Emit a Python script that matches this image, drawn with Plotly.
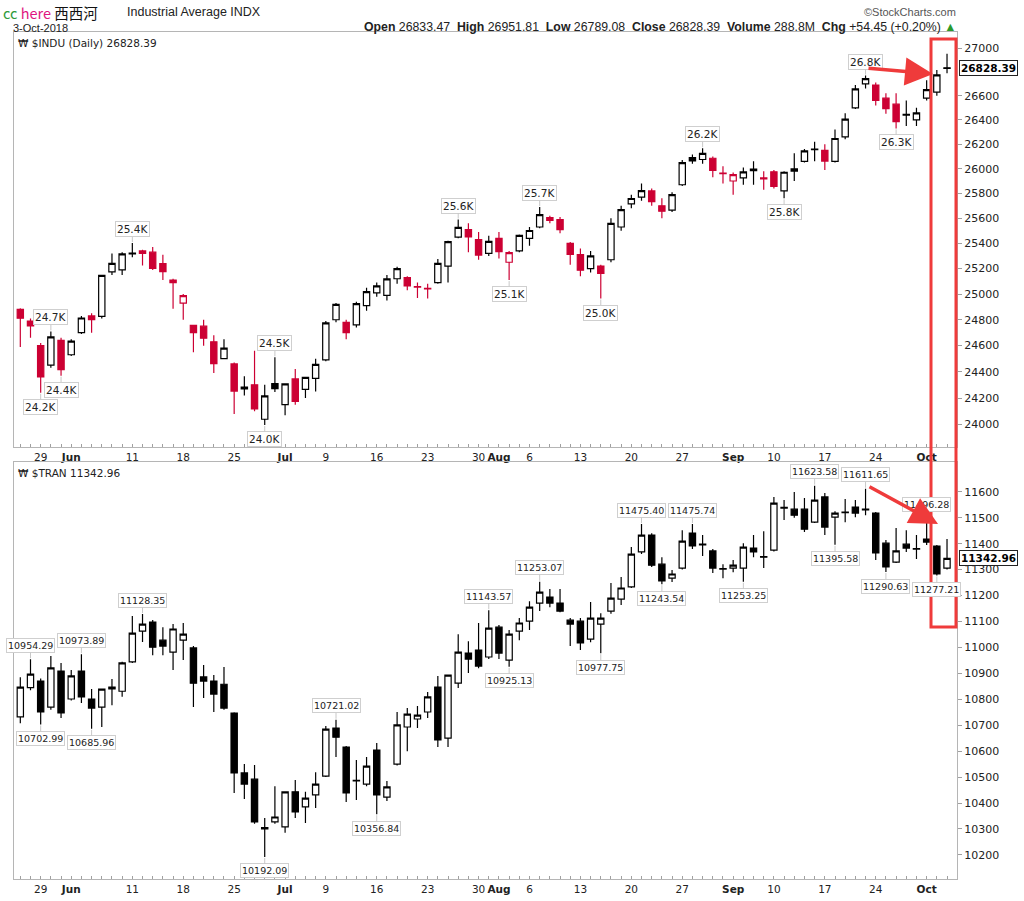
import math
import plotly.graph_objects as go

# ---------------- data ----------------
dates = [
    "2018-05-24", "2018-05-25", "2018-05-29", "2018-05-30", "2018-05-31",
    "2018-06-01", "2018-06-04", "2018-06-05", "2018-06-06", "2018-06-07", "2018-06-08",
    "2018-06-11", "2018-06-12", "2018-06-13", "2018-06-14", "2018-06-15",
    "2018-06-18", "2018-06-19", "2018-06-20", "2018-06-21", "2018-06-22",
    "2018-06-25", "2018-06-26", "2018-06-27", "2018-06-28", "2018-06-29",
    "2018-07-02", "2018-07-03", "2018-07-05", "2018-07-06",
    "2018-07-09", "2018-07-10", "2018-07-11", "2018-07-12", "2018-07-13",
    "2018-07-16", "2018-07-17", "2018-07-18", "2018-07-19", "2018-07-20",
    "2018-07-23", "2018-07-24", "2018-07-25", "2018-07-26", "2018-07-27",
    "2018-07-30", "2018-07-31", "2018-08-01", "2018-08-02", "2018-08-03",
    "2018-08-06", "2018-08-07", "2018-08-08", "2018-08-09", "2018-08-10",
    "2018-08-13", "2018-08-14", "2018-08-15", "2018-08-16", "2018-08-17",
    "2018-08-20", "2018-08-21", "2018-08-22", "2018-08-23", "2018-08-24",
    "2018-08-27", "2018-08-28", "2018-08-29", "2018-08-30", "2018-08-31",
    "2018-09-04", "2018-09-05", "2018-09-06", "2018-09-07",
    "2018-09-10", "2018-09-11", "2018-09-12", "2018-09-13", "2018-09-14",
    "2018-09-17", "2018-09-18", "2018-09-19", "2018-09-20", "2018-09-21",
    "2018-09-24", "2018-09-25", "2018-09-26", "2018-09-27", "2018-09-28",
    "2018-10-01", "2018-10-02", "2018-10-03",
]

indu_prev_close = 24886.81
indu_open = [24880, 24790, 24600, 24450, 24640, 24530, 24700, 24830, 24826, 25175, 25190,
             25316, 25340, 25330, 25240, 25110, 24930, 24757, 24750, 24630, 24500,
             24460, 24270, 24300, 24040, 24310, 24150, 24345, 24265, 24350,
             24490, 24800, 24780, 24760, 24910, 25010, 24990, 25120, 25130, 25054,
             25040, 25090, 25220, 25450, 25510, 25430, 25320, 25440, 25250, 25340,
             25440, 25530, 25605, 25590, 25400, 25310, 25200, 25220, 25270, 25530,
             25715, 25770, 25820, 25700, 25665, 25870, 26090, 26075, 26085, 25960,
             25900, 25925, 25985, 25925, 25975, 25820, 25980, 26060, 26160,
             26150, 26060, 26260, 26500, 26700, 26690, 26580, 26530, 26445, 26400,
             26580, 26630, 26833.47]
indu_high = [24890, 24810, 24620, 24710, 24660, 24650, 24830, 24850, 25150, 25320, 25330,
             25402, 25350, 25370, 25310, 25120, 25000, 24760, 24800, 24680, 24650,
             24470, 24365, 24560, 24300, 24510, 24310, 24420, 24360, 24500,
             24790, 24930, 24800, 24940, 25050, 25090, 25150, 25215, 25140, 25090,
             25080, 25275, 25420, 25590, 25560, 25490, 25460, 25490, 25340, 25470,
             25530, 25690, 25620, 25610, 25410, 25360, 25340, 25230, 25600, 25700,
             25790, 25880, 25840, 25760, 25810, 26070, 26115, 26167, 26100, 26020,
             25970, 26010, 26060, 25980, 25990, 25980, 26125, 26160, 26220,
             26200, 26320, 26455, 26690, 26769, 26710, 26620, 26620, 26560, 26500,
             26730, 26815, 26951.81]
indu_low = [24590, 24660, 24240, 24430, 24370, 24520, 24690, 24700, 24810, 25150, 25150,
            25290, 25225, 25190, 25110, 24885, 24800, 24550, 24600, 24390, 24495,
            24080, 24220, 24100, 23997, 24245, 24070, 24150, 24200, 24250,
            24480, 24780, 24650, 24740, 24870, 24980, 24950, 25080, 25030, 24970,
            24965, 25080, 25090, 25440, 25330, 25270, 25300, 25280, 25110, 25330,
            25380, 25520, 25560, 25480, 25230, 25140, 25170, 24965, 25250, 25500,
            25680, 25740, 25700, 25600, 25650, 25860, 26040, 26040, 25930, 25880,
            25790, 25870, 25870, 25830, 25840, 25760, 25900, 26050, 26060,
            25990, 26050, 26240, 26490, 26660, 26520, 26450, 26330, 26350, 26350,
            26560, 26600, 26789.08]
indu_close = [24811.76, 24753.09, 24361.45, 24667.78, 24415.84, 24635.21, 24813.69, 24799.98,
              25146.39, 25241.41, 25316.53, 25322.31, 25320.73, 25201.20, 25175.31, 25090.48,
              24987.47, 24700.21, 24657.80, 24461.70, 24580.89, 24252.80, 24283.11, 24117.59,
              24216.05, 24271.41, 24307.18, 24174.82, 24356.74, 24456.48, 24776.59, 24919.66,
              24700.45, 24924.89, 25019.41, 25064.36, 25119.89, 25199.29, 25064.50, 25058.12,
              25044.29, 25241.94, 25414.10, 25527.07, 25451.06, 25306.83, 25415.19, 25333.82,
              25326.16, 25462.58, 25502.18, 25628.91, 25583.75, 25509.23, 25313.14, 25187.70,
              25299.92, 25162.41, 25558.73, 25669.32, 25758.69, 25822.29, 25733.60, 25656.98,
              25790.35, 26049.64, 26064.02, 26124.57, 25986.92, 25964.82, 25952.48, 25974.99,
              25995.87, 25916.54, 25857.07, 25971.06, 25998.92, 26145.99, 26154.67, 26062.12,
              26246.96, 26405.76, 26656.98, 26743.50, 26562.05, 26492.21, 26385.28, 26439.93,
              26458.31, 26651.21, 26773.94, 26828.39]

tran_open = [10732, 10845, 10870, 10770, 10909, 10801, 10909, 10801, 10770, 10847, 10831,
             10944, 11063, 11098, 11028, 10982, 11028, 10998, 10886, 10870, 10858,
             10747, 10516, 10492, 10300, 10327, 10308, 10443, 10385, 10431,
             10504, 10689, 10616, 10487, 10473, 10604, 10423, 10550, 10693, 10724,
             10751, 10847, 10650, 10862, 10978, 10990, 10963, 11078, 10951, 11063,
             11101, 11171, 11194, 11171, 11105, 11101, 11032, 11090, 11140, 11186,
             11233, 11368, 11433, 11321, 11267, 11306, 11441, 11398, 11372, 11304,
             11306, 11306, 11383, 11350, 11375, 11540, 11533, 11533, 11483,
             11580, 11502, 11520, 11541, 11530, 11518, 11402, 11329, 11398, 11381,
             11418, 11391, 11306]
tran_high = [10885, 10954.29, 10880, 10967, 10940, 10913, 10973.89, 10840, 10840, 10878, 10945,
             11121, 11128.35, 11106, 11078, 11090, 11094, 11005, 10932, 10894, 10924,
             10750, 10550, 10547, 10342, 10465, 10445, 10489, 10443, 10519,
             10697, 10721.02, 10620, 10566, 10577, 10631, 10485, 10751, 10766, 10774,
             10828, 10890, 10895, 11051, 11024, 11094, 11143.57, 11086, 11067, 11113,
             11178, 11253.07, 11225, 11225, 11113, 11113, 11175, 11132, 11248, 11271,
             11387, 11475.40, 11440, 11348, 11298, 11452, 11475.74, 11433, 11379, 11321,
             11337, 11402, 11433, 11448, 11580, 11568, 11599, 11576, 11623.58,
             11595, 11525, 11572, 11568, 11611.65, 11522, 11414, 11460, 11452, 11433,
             11496.28, 11395, 11418]
tran_low = [10708, 10835, 10702.99, 10760, 10728, 10795, 10786, 10685.96, 10693, 10777, 10810,
            10940, 11021, 10970, 10970, 10913, 10951, 10770, 10805, 10751, 10760,
            10439, 10415, 10320, 10192.09, 10320, 10285, 10342, 10323, 10381,
            10500, 10577, 10404, 10412, 10465, 10356.84, 10408, 10545, 10600, 10689,
            10728, 10616, 10616, 10843, 10901, 10920, 10955, 10955, 10925.13, 11028,
            11067, 11140, 11155, 11136, 11005, 10990, 11020, 10977.75, 11130, 11163,
            11229, 11360, 11310, 11243.54, 11252, 11300, 11379, 11352, 11287, 11267,
            11290, 11253.25, 11348, 11306, 11370, 11491, 11500, 11445, 11480,
            11433, 11395.58, 11483, 11502, 11510, 11337, 11290.63, 11325, 11368, 11341,
            11395, 11277.21, 11300]
tran_close = [10847, 10897, 10751, 10921, 10747, 10890, 10809, 10766, 10839, 10840, 10940,
              11055, 11090, 11001, 11005, 11071, 11051, 10862, 10870, 10820, 10766,
              10516, 10473, 10327, 10305, 10346, 10443, 10366, 10419, 10473,
              10685, 10654, 10439, 10485, 10542, 10431, 10462, 10701, 10743, 10739,
              10809, 10643, 10893, 10982, 10955, 10928, 11074, 10978, 11051, 11094,
              11155, 11213, 11171, 11140, 11090, 11017, 11113, 11113, 11190, 11229,
              11360, 11433, 11317, 11256, 11283, 11410, 11391, 11395, 11306, 11302,
              11317, 11387, 11368, 11348, 11556, 11537, 11510, 11456, 11568,
              11464, 11518, 11522, 11518, 11533, 11364, 11310, 11372, 11383, 11379,
              11406, 11283, 11342.96]

# x-axis tick labels (date -> label)
x_tick_labels = {
    "2018-05-29": "29", "2018-06-01": "<b>Jun</b>", "2018-06-11": "11", "2018-06-18": "18",
    "2018-06-25": "25", "2018-07-02": "<b>Jul</b>", "2018-07-09": "9", "2018-07-16": "16",
    "2018-07-23": "23", "2018-07-30": "30", "2018-08-01": "<b>Aug</b>", "2018-08-06": "6",
    "2018-08-13": "13", "2018-08-20": "20", "2018-08-27": "27", "2018-09-04": "<b>Sep</b>",
    "2018-09-10": "10", "2018-09-17": "17", "2018-09-24": "24", "2018-10-01": "<b>Oct</b>",
}
indu_ticks = [24000, 24200, 24400, 24600, 24800, 25000, 25200, 25400, 25600, 25800,
              26000, 26200, 26400, 26600, 27000]
tran_ticks = [10200, 10300, 10400, 10500, 10600, 10700, 10800, 10900, 11000, 11100,
              11200, 11300, 11400, 11500, 11600]

# indices of annotated highs / lows
indu_high_marks = [3, 11, 25, 43, 51, 67, 83]
indu_low_marks = [2, 4, 24, 48, 57, 75, 86]
tran_high_marks = [1, 6, 12, 31, 46, 51, 61, 66, 78, 83, 89]
tran_low_marks = [2, 7, 24, 35, 48, 57, 63, 71, 80, 85, 90]

# ---------------- styling helpers ----------------
W, H = 1024, 901
PL, PR, PT, PB = 14, 957, 32, 879   # plot area in pixels


def px(x):
    return (x - PL) / (PR - PL)


def py(y):
    return (PB - y) / (PB - PT)


RED = "#cc0033"
FONT = "DejaVu Sans"

fig = go.Figure()

# ---- top panel: split by close vs previous close (black / red) ----
prev = [indu_prev_close] + indu_close[:-1]
up_idx = [i for i in range(len(dates)) if indu_close[i] >= prev[i]]
dn_idx = [i for i in range(len(dates)) if indu_close[i] < prev[i]]


def pick(arr, idx):
    return [arr[i] for i in idx]


fig.add_trace(go.Candlestick(
    x=pick(dates, up_idx), open=pick(indu_open, up_idx), high=pick(indu_high, up_idx),
    low=pick(indu_low, up_idx), close=pick(indu_close, up_idx),
    increasing=dict(line=dict(color="black", width=1.2), fillcolor="white"),
    decreasing=dict(line=dict(color="black", width=1.2), fillcolor="black"),
    whiskerwidth=0, showlegend=False, xaxis="x", yaxis="y"))
fig.add_trace(go.Candlestick(
    x=pick(dates, dn_idx), open=pick(indu_open, dn_idx), high=pick(indu_high, dn_idx),
    low=pick(indu_low, dn_idx), close=pick(indu_close, dn_idx),
    increasing=dict(line=dict(color=RED, width=1.2), fillcolor="white"),
    decreasing=dict(line=dict(color=RED, width=1.2), fillcolor=RED),
    whiskerwidth=0, showlegend=False, xaxis="x", yaxis="y"))

# ---- bottom panel ----
fig.add_trace(go.Candlestick(
    x=dates, open=tran_open, high=tran_high, low=tran_low, close=tran_close,
    increasing=dict(line=dict(color="black", width=1.2), fillcolor="white"),
    decreasing=dict(line=dict(color="black", width=1.2), fillcolor="black"),
    whiskerwidth=0, showlegend=False, xaxis="x2", yaxis="y2"))

ticktext = [x_tick_labels.get(d, "") for d in dates]
xr = [-0.62, 91.98]
top_dom = [py(447.3), 1.0]
bot_dom = [0.0, py(461.7)]

axis_common = dict(showline=True, linecolor="#b5b5b5", linewidth=1,
                   showgrid=False, zeroline=False, tickcolor="#a0a0a0",
                   automargin=False,
                   tickfont=dict(family=FONT, size=11, color="#222"))

xcommon = dict(axis_common, mirror=True, ticks="inside", type="category",
               categoryorder="array", categoryarray=dates,
               range=xr, tickmode="array", tickvals=dates, ticktext=ticktext, ticklen=3,
               tickangle=0, tickfont=dict(family=FONT, size=10.5, color="#222"),
               rangeslider=dict(visible=False))

ycommon = dict(axis_common, mirror=True, ticks="outside", side="right", ticklen=4)

fig.update_layout(
    width=W, height=H,
    margin=dict(l=PL, r=W - PR, t=PT, b=H - PB, autoexpand=False),
    paper_bgcolor="white", plot_bgcolor="white",
    boxgap=0.12,
    xaxis=dict(xcommon, domain=[0, 1], anchor="y"),
    xaxis2=dict(xcommon, domain=[0, 1], anchor="y2"),
    yaxis=dict(ycommon, domain=top_dom, anchor="x", type="log",
               range=[math.log10(23830), math.log10(27136)],
               tickmode="array", tickvals=indu_ticks, ticktext=[str(t) for t in indu_ticks]),
    yaxis2=dict(ycommon, domain=bot_dom, anchor="x2", type="linear",
                range=[10107, 11716],
                tickmode="array", tickvals=tran_ticks, ticktext=[str(t) for t in tran_ticks]),
    font=dict(family=FONT, color="#222"),
)

ann = []


def label(xref, yref, x, y, text, up, size):
    ann.append(dict(xref=xref, yref=yref, x=x, y=y, text=text, showarrow=True,
                    arrowhead=0, arrowwidth=1, arrowcolor="#c8c8c8", ax=0,
                    ay=-14 if up else 14, standoff=1,
                    font=dict(family=FONT, size=size, color="#222"),
                    bgcolor="white", bordercolor="#cfcfcf", borderwidth=1, borderpad=1))


for i in indu_high_marks:
    label("x", "y", dates[i], math.log10(indu_high[i]), f"{indu_high[i] / 1000:.1f}K", True, 10.5)
for i in indu_low_marks:
    label("x", "y", dates[i], math.log10(indu_low[i]), f"{indu_low[i] / 1000:.1f}K", False, 10.5)
for i in tran_high_marks:
    label("x2", "y2", dates[i], tran_high[i], f"{tran_high[i]:.2f}", True, 9.5)
for i in tran_low_marks:
    label("x2", "y2", dates[i], tran_low[i], f"{tran_low[i]:.2f}", False, 9.5)

# last-value boxes on the price axes
ann.append(dict(xref="paper", yref="y", x=px(959), y=math.log10(indu_close[-1]),
                text=f"<b>{indu_close[-1]:.2f}</b>", showarrow=False, xanchor="left",
                font=dict(family=FONT, size=10.5, color="black"), bgcolor="white",
                bordercolor="#222", borderwidth=1, borderpad=1))
ann.append(dict(xref="paper", yref="y2", x=px(959), y=tran_close[-1],
                text=f"<b>{tran_close[-1]:.2f}</b>", showarrow=False, xanchor="left",
                font=dict(family=FONT, size=10.5, color="black"), bgcolor="white",
                bordercolor="#222", borderwidth=1, borderpad=1))

# header texts
ann.append(dict(xref="paper", yref="paper", x=px(2), y=py(0.5), xanchor="left", yanchor="top",
                showarrow=False, borderpad=0,
                text="<span style='color:#2f9a3a'>cc</span> <span style='color:#e0157f'>here</span> 西西河",
                font=dict(family="Noto Sans CJK SC, Noto Sans", size=14.5, color="#111")))
ann.append(dict(xref="paper", yref="paper", x=px(125), y=py(12), xanchor="left", yanchor="middle",
                showarrow=False, text="Industrial Average INDX",
                font=dict(family="Liberation Sans", size=12.5, color="#222")))
ann.append(dict(xref="paper", yref="paper", x=px(958), y=py(12), xanchor="right", yanchor="middle",
                showarrow=False, text="©StockCharts.com",
                font=dict(family="Liberation Sans", size=11, color="#555")))
ann.append(dict(xref="paper", yref="paper", x=px(12), y=py(27.5), xanchor="left", yanchor="middle",
                showarrow=False, text="3-Oct-2018", borderpad=0,
                font=dict(family="Liberation Sans", size=11, color="#222")))
hdr = (f"<b>Open</b> {indu_open[-1]:.2f}  <b>High</b> {indu_high[-1]:.2f}  "
       f"<b>Low</b> {indu_low[-1]:.2f}  <b>Close</b> {indu_close[-1]:.2f}  "
       f"<b>Volume</b> 288.8M  <b>Chg</b> +54.45 (+0.20%) <span style='color:#2a9a2a'>▲</span>")
ann.append(dict(xref="paper", yref="paper", x=px(958), y=py(27), xanchor="right", yanchor="middle",
                showarrow=False, text=hdr,
                font=dict(family="Liberation Sans", size=12.3, color="#222")))
ann.append(dict(xref="paper", yref="paper", x=px(16), y=py(43), xanchor="left", yanchor="middle",
                showarrow=False, text=f"₩ $INDU (Daily) {indu_close[-1]:.2f}",
                font=dict(family=FONT, size=10.5, color="#222")))
ann.append(dict(xref="paper", yref="paper", x=px(16), y=py(473), xanchor="left", yanchor="middle",
                showarrow=False, text=f"₩ $TRAN {tran_close[-1]:.2f}",
                font=dict(family=FONT, size=10.5, color="#222")))

# red arrows
ann.append(dict(xref="paper", yref="paper", x=px(933), y=py(74), ax=-66, ay=-6, text="",
                showarrow=True, arrowhead=2, arrowsize=1.6, arrowwidth=3.5, arrowcolor="#ef3b3b"))
ann.append(dict(xref="paper", yref="paper", x=px(938), y=py(524), ax=-70, ay=-38, text="",
                showarrow=True, arrowhead=2, arrowsize=1.6, arrowwidth=3.5, arrowcolor="#ef3b3b"))

fig.update_layout(annotations=ann)

fig.add_shape(type="rect", xref="paper", yref="paper",
              x0=px(931), x1=px(956), y0=py(627), y1=py(39),
              line=dict(color="#ef3b3b", width=3), fillcolor="rgba(0,0,0,0)")

fig.write_html("out.html")
